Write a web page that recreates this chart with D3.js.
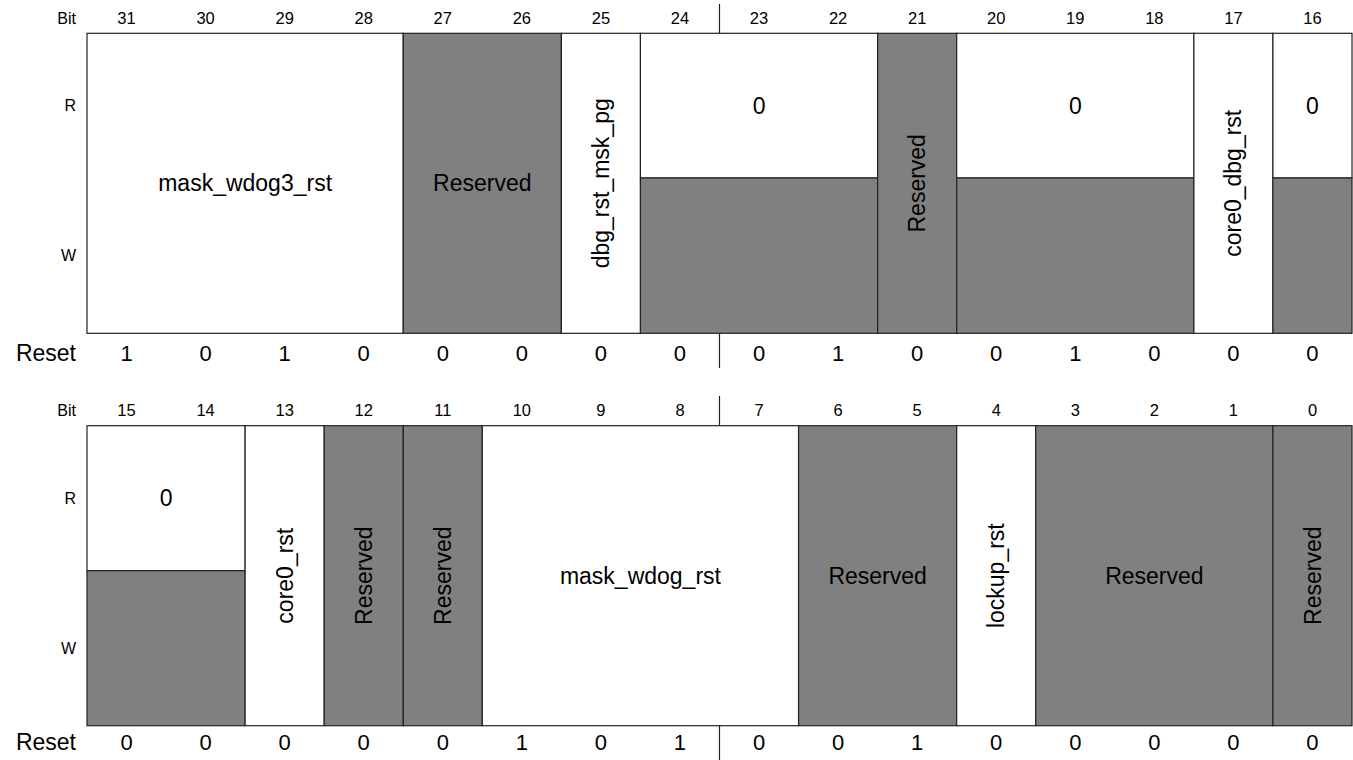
<!DOCTYPE html>
<html>
<head>
<meta charset="utf-8">
<script src="https://cdn.jsdelivr.net/npm/d3@7"></script>
<style>
  body { margin: 0; background: #fff; }
  svg { display: block; font-family: "Liberation Sans", Arial, Helvetica, sans-serif; }
</style>
</head>
<body>
<svg width="1353" height="760"></svg>
<script>
// register fields, most significant first
var fieldNames  = ["mask_wdog3_rst", "Reserved", "dbg_rst_msk_pg", "0", "Reserved", "0", "core0_dbg_rst", "0",
                   "0", "core0_rst", "Reserved", "Reserved", "mask_wdog_rst", "Reserved", "lockup_rst", "Reserved", "Reserved"];
var fieldMsb    = [31, 27, 25, 24, 21, 20, 17, 16, 15, 13, 12, 11, 10, 6, 4, 3, 0];
var fieldLsb    = [28, 26, 25, 22, 21, 18, 17, 16, 14, 13, 12, 11, 7, 5, 4, 1, 0];
var fieldAccess = ["rw", "res", "rw", "r0", "res", "r0", "rw", "r0", "r0", "rw", "res", "res", "rw", "res", "rw", "res", "res"];

// reset values, bit 31 down to bit 0
var resetValues = [1, 0, 1, 0, 0, 0, 0, 0, 0, 1, 0, 0, 1, 0, 0, 0,
                   0, 0, 0, 0, 0, 1, 0, 1, 0, 0, 1, 0, 0, 0, 0, 0];

var rowLabels = ["Bit", "R", "W", "Reset"];

var svg = d3.select("svg");
var gray = "#808080";
var line = "#222";

// two rows of 16 bits each
var rows = [
  {hi: 31, bitY: 18.5, top: 33.3, split: 178, bottom: 333.3, resetY: 353, tickTop: 4, tickBot: 368},
  {hi: 15, bitY: 410, top: 425.7, split: 570.7, bottom: 725.7, resetY: 742, tickTop: 396, tickBot: 760}
];

var fields = fieldNames.map(function(n, i) {
  return {name: n, msb: fieldMsb[i], lsb: fieldLsb[i], access: fieldAccess[i]};
});

rows.forEach(function(row) {
  var bits = d3.range(row.hi, row.hi - 16, -1);
  var x = d3.scaleBand().domain(bits).range([87, 1352]);
  var g = svg.append("g");

  // row headers
  var lab = g.append("g").attr("text-anchor", "end");
  lab.append("text").attr("x", 76).attr("y", row.bitY).attr("dy", "0.35em").style("font-size", "16px").text(rowLabels[0]);
  lab.append("text").attr("x", 76).attr("y", (row.top + row.split) / 2).attr("dy", "0.35em").style("font-size", "16px").text(rowLabels[1]);
  lab.append("text").attr("x", 76).attr("y", (row.split + row.bottom) / 2).attr("dy", "0.35em").style("font-size", "16px").text(rowLabels[2]);
  lab.append("text").attr("x", 76).attr("y", row.resetY).attr("dy", "0.35em").style("font-size", "23px").text(rowLabels[3]);

  // bit numbers
  g.selectAll(".bitnum").data(bits).enter().append("text")
    .attr("x", function(d) { return x(d) + x.bandwidth() / 2; })
    .attr("y", row.bitY).attr("dy", "0.35em")
    .attr("text-anchor", "middle").style("font-size", "16.5px")
    .text(function(d) { return d; });

  // reset values
  g.selectAll(".reset").data(bits).enter().append("text")
    .attr("x", function(d) { return x(d) + x.bandwidth() / 2; })
    .attr("y", row.resetY).attr("dy", "0.35em")
    .attr("text-anchor", "middle").style("font-size", "22px")
    .text(function(d) { return resetValues[31 - d]; });

  var rf = fields.filter(function(f) { return f.msb <= row.hi && f.msb > row.hi - 16; });
  var cells = g.selectAll(".field").data(rf).enter().append("g");

  cells.each(function(f) {
    var c = d3.select(this);
    var x0 = x(f.msb), x1 = x(f.lsb) + x.bandwidth();
    var w = x1 - x0;
    if (f.access == "r0") {
      c.append("rect").attr("x", x0).attr("y", row.top).attr("width", w).attr("height", row.split - row.top)
        .attr("fill", "#fff").attr("stroke", line).attr("stroke-width", 1.2);
      c.append("rect").attr("x", x0).attr("y", row.split).attr("width", w).attr("height", row.bottom - row.split)
        .attr("fill", gray).attr("stroke", line).attr("stroke-width", 1.2);
      c.append("text").attr("x", x0 + w / 2).attr("y", (row.top + row.split) / 2).attr("dy", "0.35em")
        .attr("text-anchor", "middle").style("font-size", "23px").text(f.name);
    } else {
      c.append("rect").attr("x", x0).attr("y", row.top).attr("width", w).attr("height", row.bottom - row.top)
        .attr("fill", f.access == "res" ? gray : "#fff").attr("stroke", line).attr("stroke-width", 1.2);
      var cx = x0 + w / 2, cy = (row.top + row.bottom) / 2;
      var t = c.append("text").attr("text-anchor", "middle").attr("dy", "0.35em")
        .style("font-size", "23px").text(f.name);
      if (f.msb == f.lsb) {
        t.attr("transform", "translate(" + cx + "," + cy + ") rotate(-90)");
      } else {
        t.attr("x", cx).attr("y", cy);
      }
    }
  });

  // half-word divider ticks between bit 8k and 8k-1
  var mid = x(row.hi - 7) + x.bandwidth();
  g.append("line").attr("x1", mid).attr("x2", mid).attr("y1", row.tickTop).attr("y2", row.top)
    .attr("stroke", line).attr("stroke-width", 1.2);
  g.append("line").attr("x1", mid).attr("x2", mid).attr("y1", row.bottom).attr("y2", row.tickBot)
    .attr("stroke", line).attr("stroke-width", 1.2);
});
</script>
</body>
</html>
